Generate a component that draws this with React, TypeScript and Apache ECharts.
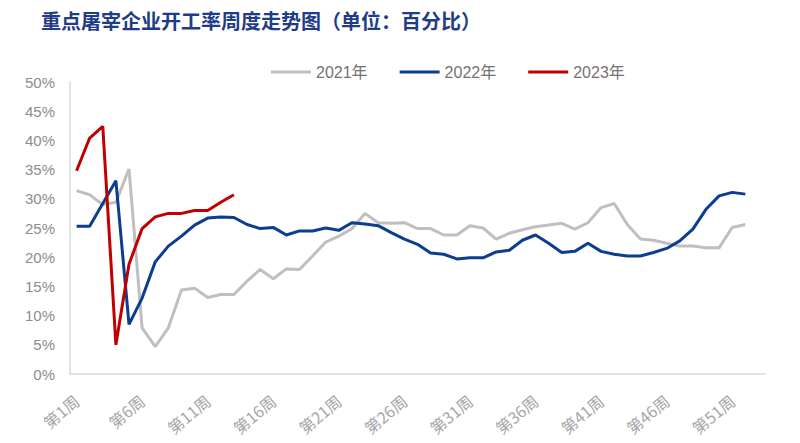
import React, { useEffect, useRef } from "react";
import * as echarts from "echarts";

const weeks: string[] = Array.from({ length: 53 }, (_, i) => `第${i + 1}周`);

const y2021: (number | null)[] = [
  31.4, 30.7, 29.0, 29.4, 35.1, 7.9, 4.7, 7.9, 14.4, 14.7,
  13.1, 13.6, 13.6, 15.9, 17.9, 16.3, 18.0, 17.9, 20.2, 22.6,
  23.6, 24.9, 27.5, 25.9, 25.8, 25.9, 24.9, 24.9, 23.8, 23.8,
  25.4, 25.0, 23.1, 24.1, 24.7, 25.2, 25.5, 25.8, 24.8, 25.9,
  28.5, 29.2, 25.6, 23.1, 22.9, 22.4, 21.9, 21.9, 21.6, 21.6,
  25.1, 25.6,
];

const y2022: (number | null)[] = [
  25.3, 25.3, 29.2, 33.1, 8.5, 13.0, 19.2, 21.9, 23.6, 25.5,
  26.7, 26.9, 26.8, 25.6, 24.9, 25.1, 23.8, 24.5, 24.5, 25.0,
  24.6, 25.9, 25.7, 25.4, 24.2, 23.1, 22.2, 20.7, 20.5, 19.7,
  19.9, 19.9, 20.9, 21.2, 22.9, 23.8, 22.4, 20.8, 21.0, 22.4,
  21.0, 20.5, 20.2, 20.2, 20.8, 21.5, 22.8, 24.8, 28.2, 30.5,
  31.1, 30.8,
];

const y2023: (number | null)[] = [
  34.8, 40.4, 42.4, 5.0, 18.8, 24.9, 26.9, 27.5, 27.5, 28.0,
  28.0, 29.4, 30.7,
];

const seriesNames = ["2021年", "2022年", "2023年"];
const seriesColors = ["#BFBFBF", "#0B3D91", "#C00000"];

export default function App() {
  const ref = useRef<HTMLDivElement>(null);
  useEffect(() => {
    if (!ref.current) return;
    const chart = echarts.init(ref.current, undefined, { renderer: "svg" });
    const datasets = [y2021, y2022, y2023];
    chart.setOption({
      animation: false,
      title: {
        text: "重点屠宰企业开工率周度走势图（单位：百分比）",
        left: 36,
        top: 5,
        textStyle: {
          color: "#1F3C88",
          fontSize: 20,
          fontWeight: "bold",
          fontFamily: "Noto Sans CJK SC",
        },
      },
      legend: {
        data: seriesNames,
        top: 59,
        left: 266,
        itemWidth: 40,
        itemHeight: 3,
        itemGap: 32,
        icon: "rect",
        textStyle: {
          color: "#767171",
          fontSize: 16,
          fontFamily: "Liberation Sans, Noto Sans CJK SC",
        },
      },
      grid: { left: 70, right: 35, top: 82, bottom: 69, containLabel: false },
      xAxis: {
        type: "category",
        data: weeks,
        boundaryGap: true,
        axisLine: { lineStyle: { color: "#D9D9D9", width: 1.5 } },
        axisTick: { show: false },
        axisLabel: {
          interval: 4,
          rotate: 40,
          color: "#A6A6A6",
          fontSize: 16,
          margin: 24,
          fontFamily: "Noto Sans CJK SC",
        },
      },
      yAxis: {
        type: "value",
        min: 0,
        max: 50,
        interval: 5,
        splitLine: { show: false },
        axisLine: { show: true, lineStyle: { color: "#D9D9D9", width: 1.5 } },
        axisTick: { show: false },
        axisLabel: {
          formatter: "{value}%",
          color: "#8C8C8C",
          fontSize: 15,
          margin: 15,
          fontFamily: "Liberation Sans",
        },
      },
      series: datasets.map((d, i) => ({
        name: seriesNames[i],
        type: "line",
        data: d,
        symbol: "none",
        color: seriesColors[i],
        lineStyle: { color: seriesColors[i], width: 3 },
        z: 2 + i,
      })),
    });
    return () => chart.dispose();
  }, []);
  return <div ref={ref} style={{ width: 800, height: 443, margin: -8 }} />;
}
